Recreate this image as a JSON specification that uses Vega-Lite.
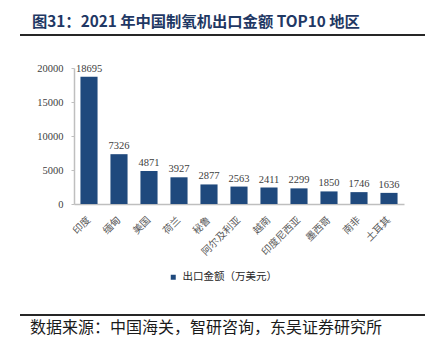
{
  "$schema": "https://vega.github.io/schema/vega-lite/v6.json",
  "padding": {"left": 20, "top": 14, "right": 0, "bottom": 0},
  "background": "white",
  "spacing": 27,
  "title": {
    "text": "图31：2021 年中国制氧机出口金额 TOP10 地区",
    "anchor": "start",
    "frame": "bounds",
    "dx": 12,
    "offset": 4,
    "font": "Noto Sans CJK SC",
    "fontSize": 15.3,
    "fontWeight": "bold",
    "color": "#1F3864"
  },
  "resolve": {"legend": {"color": "independent"}, "scale": {"color": "independent"}},
  "datasets": {
    "exports": [
      {"region": "印度", "value": 18695, "series": "出口金额（万美元）"},
      {"region": "缅甸", "value": 7326, "series": "出口金额（万美元）"},
      {"region": "美国", "value": 4871, "series": "出口金额（万美元）"},
      {"region": "荷兰", "value": 3927, "series": "出口金额（万美元）"},
      {"region": "秘鲁", "value": 2877, "series": "出口金额（万美元）"},
      {"region": "阿尔及利亚", "value": 2563, "series": "出口金额（万美元）"},
      {"region": "越南", "value": 2411, "series": "出口金额（万美元）"},
      {"region": "印度尼西亚", "value": 2299, "series": "出口金额（万美元）"},
      {"region": "墨西哥", "value": 1850, "series": "出口金额（万美元）"},
      {"region": "南非", "value": 1746, "series": "出口金额（万美元）"},
      {"region": "土耳其", "value": 1636, "series": "出口金额（万美元）"}
    ],
    "line": [{"from": 0, "to": 1}]
  },
  "vconcat": [
    {
      "width": 405,
      "height": 2,
      "view": {"stroke": null},
      "data": {"name": "line"},
      "mark": {"type": "rect", "color": "#262626"},
      "encoding": {
        "x": {"field": "from", "type": "quantitative", "scale": {"domain": [0, 1], "nice": false}, "axis": null},
        "x2": {"field": "to"}
      }
    },
    {
      "width": 404,
      "height": 136,
      "view": {"stroke": null},
      "data": {"name": "exports"},
      "encoding": {
        "x": {
          "field": "region",
          "type": "nominal",
          "sort": null,
          "scale": {"range": [54, 384], "paddingInner": 0.43, "paddingOuter": 0.215},
          "axis": {
            "title": null,
            "labelAngle": -45,
            "labelAlign": "right",
            "labelBaseline": "middle",
            "labelFont": "Noto Sans CJK SC",
            "labelFontSize": 10,
            "labelColor": "#595959",
            "labelPadding": 14,
            "ticks": false,
            "domainColor": "#BFBFBF",
            "domainWidth": 1.5
          }
        },
        "y": {
          "field": "value",
          "type": "quantitative",
          "scale": {"domain": [0, 20000]},
          "axis": {
            "title": null,
            "values": [0, 5000, 10000, 15000, 20000],
            "format": "d",
            "grid": false,
            "offset": -54,
            "labelFont": "Liberation Serif",
            "labelFontSize": 10.5,
            "labelColor": "#404040",
            "labelPadding": 8,
            "tickSize": 3,
            "tickColor": "#BFBFBF",
            "domainColor": "#BFBFBF",
            "domainWidth": 1.5
          }
        }
      },
      "layer": [
        {
          "mark": {"type": "bar"},
          "encoding": {
            "color": {
              "field": "series",
              "type": "nominal",
              "scale": {"range": ["#1F497D"]},
              "legend": {
                "title": null,
                "orient": "bottom",
                "direction": "horizontal",
                "symbolType": "square",
                "symbolSize": 25,
                "labelFont": "Noto Sans CJK SC",
                "labelFontSize": 10.5,
                "labelColor": "#262626",
                "offset": 11,
                "padding": 4
              }
            }
          }
        },
        {
          "mark": {"type": "text", "dy": -8, "font": "Liberation Serif", "fontSize": 10.5, "color": "#404040"},
          "encoding": {"text": {"field": "value", "type": "quantitative", "format": "d"}}
        }
      ]
    },
    {
      "width": 405,
      "height": 2,
      "view": {"stroke": null},
      "title": {
        "text": "数据来源：中国海关，智研咨询，东吴证券研究所",
        "orient": "bottom",
        "anchor": "start",
        "dx": 10,
        "offset": 4,
        "font": "Noto Sans CJK SC",
        "fontSize": 16,
        "fontWeight": "normal",
        "color": "#1a1a1a"
      },
      "data": {"name": "line"},
      "mark": {"type": "rect", "color": "#262626"},
      "encoding": {
        "x": {"field": "from", "type": "quantitative", "scale": {"domain": [0, 1], "nice": false}, "axis": null},
        "x2": {"field": "to"}
      }
    }
  ],
  "config": {
    "legend": {"layout": {"bottom": {"anchor": "middle"}}}
  }
}
